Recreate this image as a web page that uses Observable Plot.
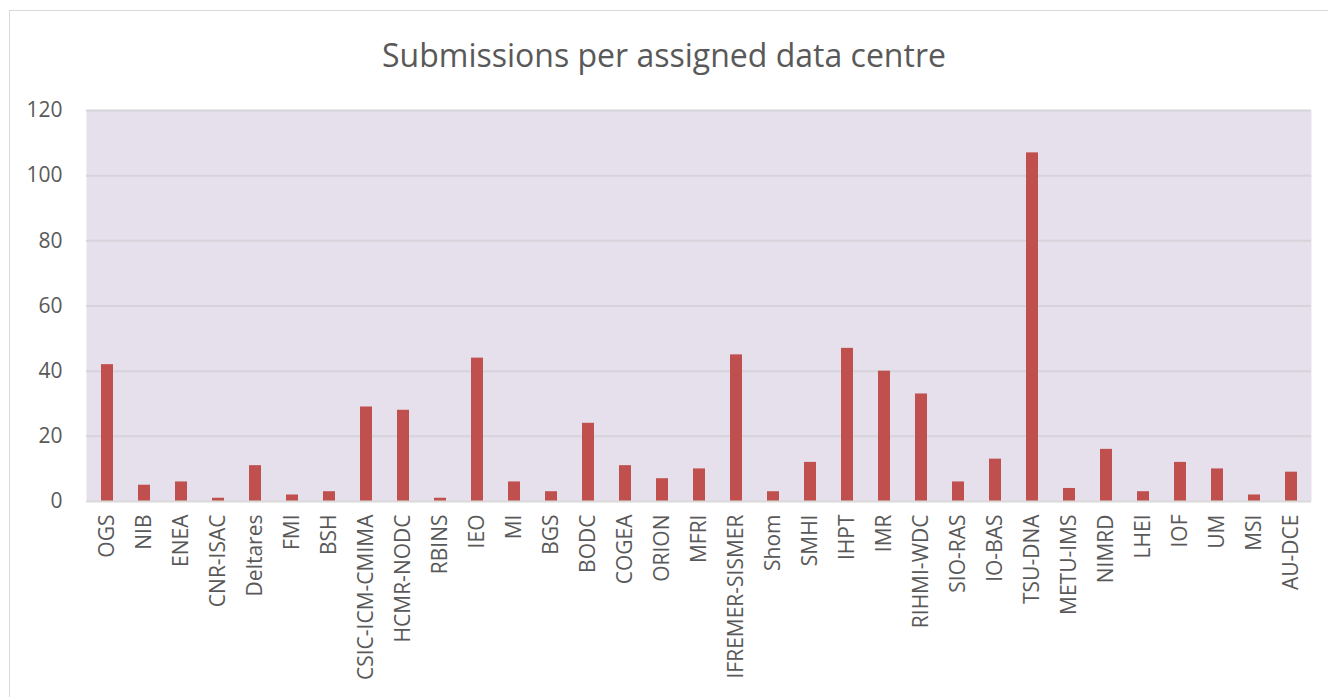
<!DOCTYPE html>
<html>
<head>
<meta charset="utf-8">
<script src="https://cdn.jsdelivr.net/npm/d3@7"></script>
<script src="https://cdn.jsdelivr.net/npm/@observablehq/plot@0.6"></script>
<style>
  html, body { margin: 0; padding: 0; background: #fff; overflow: hidden; }
  #wrap { position: relative; width: 1328px; height: 697px; font-family: "Open Sans", sans-serif; }
  #frame { position: absolute; left: 9px; top: 10px; width: 1400px; height: 800px; border: 1.5px solid #d9d9d9; box-sizing: border-box; }
  #title { position: absolute; left: 0; width: 1328px; top: 33px; text-align: center; font-size: 32px; color: #595959; }
  #chart { position: absolute; left: 0; top: 0; }
</style>
</head>
<body>
<div id="wrap">
  <div id="frame"></div>
  <div id="chart"></div>
  <div id="title">Submissions per assigned data centre</div>
</div>
<script>
const centres = ["OGS","NIB","ENEA","CNR-ISAC","Deltares","FMI","BSH","CSIC-ICM-CMIMA","HCMR-NODC","RBINS","IEO","MI","BGS","BODC","COGEA","ORION","MFRI","IFREMER-SISMER","Shom","SMHI","IHPT","IMR","RIHMI-WDC","SIO-RAS","IO-BAS","TSU-DNA","METU-IMS","NIMRD","LHEI","IOF","UM","MSI","AU-DCE"];
const submissions = [42,5,6,1,11,2,3,29,28,1,44,6,3,24,11,7,10,45,3,12,47,40,33,6,13,107,4,16,3,12,10,2,9];
const yTicks = [0,20,40,60,80,100,120];

const data = centres.map((c, i) => ({centre: c, value: submissions[i]}));

const chart = Plot.plot({
  width: 1328,
  height: 697,
  marginTop: 110,
  marginBottom: 196,
  marginLeft: 86,
  marginRight: 17,
  style: {fontFamily: "'Open Sans', sans-serif", fontSize: "21px", color: "#595959", background: "transparent"},
  x: {domain: centres, paddingInner: 0.68, paddingOuter: 0.34, label: null, tickSize: 0, tickPadding: 13, tickRotate: -90},
  y: {domain: [0, 120], ticks: yTicks, label: null, tickSize: 0, tickPadding: 24},
  marks: [
    Plot.frame({fill: "#e5e0ec", stroke: null}),
    Plot.ruleY(yTicks.filter(d => d > 0), {stroke: "#d6d3da", strokeWidth: 2}),
    Plot.barY(data, {x: "centre", y: "value", fill: "#c0504d"}),
    Plot.ruleY([0], {stroke: "#d9d9d9", strokeWidth: 2})
  ]
});
document.getElementById("chart").appendChild(chart);
</script>
</body>
</html>
